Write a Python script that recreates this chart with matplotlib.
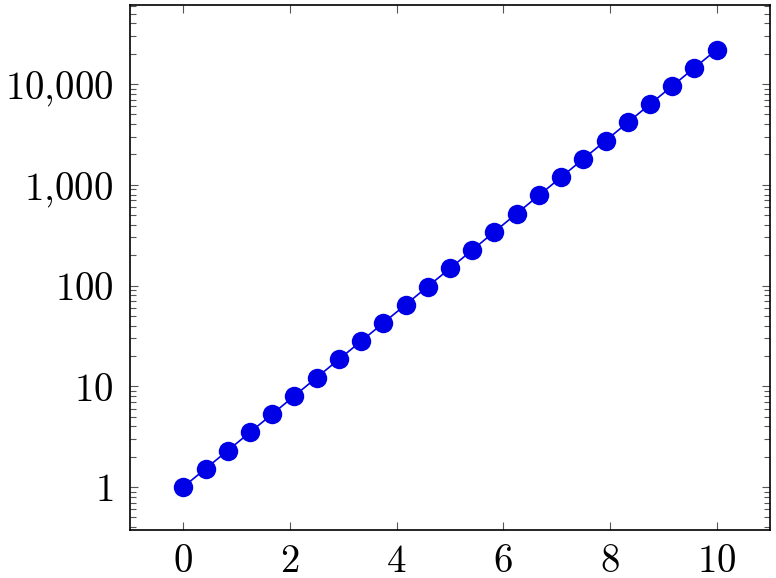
import matplotlib
matplotlib.use("Agg")
import matplotlib.pyplot as plt
from matplotlib.ticker import FixedLocator, LogLocator, NullFormatter, FuncFormatter

plt.rcParams['mathtext.fontset'] = 'cm'
plt.rcParams['font.family'] = 'serif'
plt.rcParams['font.serif'] = ['DejaVu Serif']

# points (25 samples)
xs = [0.0, 0.417, 0.833, 1.25, 1.667, 2.083, 2.5, 2.917, 3.333, 3.75,
      4.167, 4.583, 5.0, 5.417, 5.833, 6.25, 6.667, 7.083, 7.5, 7.917,
      8.333, 8.75, 9.167, 9.583, 10.0]
ys = [1.0, 1.52, 2.30, 3.49, 5.29, 8.03, 12.2, 18.5, 28.0, 42.5,
      64.5, 97.8, 148, 225, 342, 518, 786, 1190, 1810, 2740,
      4160, 6310, 9580, 14500, 22000]
xticks = [0, 2, 4, 6, 8, 10]
yticks = [1, 10, 100, 1000, 10000]

fig = plt.figure(figsize=(7.76, 5.78), dpi=100)
ax = fig.add_axes([130 / 776, 48 / 578, 640 / 776, 525 / 578])

ax.plot(xs, ys, color=(0, 0, 0.9), lw=1.2, marker='o', markersize=14,
        markeredgewidth=0)
ax.set_yscale('log')
ax.set_xlim(-1, 11)
ax.set_ylim(0.374, 61000)

ax.xaxis.set_major_locator(FixedLocator(xticks))
ax.yaxis.set_major_locator(FixedLocator(yticks))
ax.yaxis.set_minor_locator(LogLocator(base=10, subs=range(2, 10), numticks=20))
ax.yaxis.set_minor_formatter(NullFormatter())


def fmt(v, pos):
    return r'$' + '{:,}'.format(int(round(v))).replace(',', '{,}') + r'$'


ax.yaxis.set_major_formatter(FuncFormatter(fmt))
ax.xaxis.set_major_formatter(FuncFormatter(lambda v, p: r'$%d$' % v))

ax.tick_params(which='both', direction='in', top=True, right=True,
               labelsize=28, color='#555555', width=0.8)
ax.tick_params(which='major', length=6, pad=12)
ax.tick_params(axis='x', which='major', pad=9)
ax.tick_params(which='minor', length=4)
for s in ax.spines.values():
    s.set_linewidth(1.2)

fig.savefig('out.png', dpi=100)
